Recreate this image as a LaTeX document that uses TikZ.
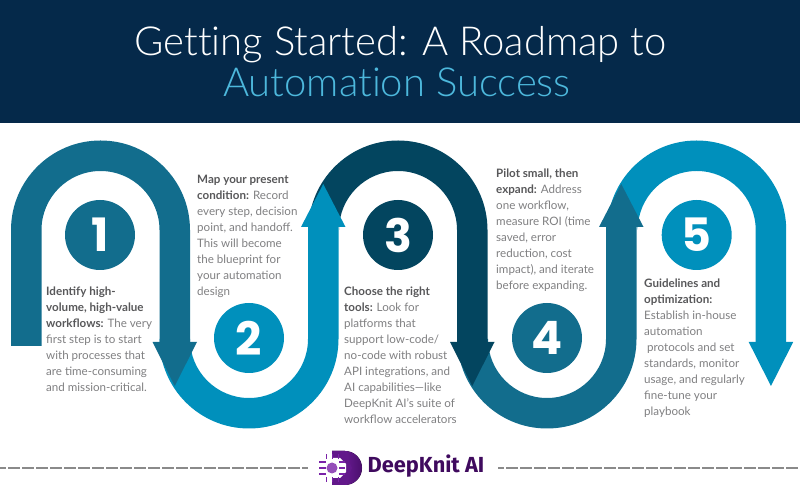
\documentclass[tikz,border=0pt]{standalone}
\usepackage{fontspec}
\setmainfont{Lato}
\newfontfamily\titlefont[Ligatures=NoCommon]{Lato Light}
\newfontfamily\numfont{Poppins}
\newfontfamily\logofont{Fira Sans}
\usetikzlibrary{positioning}
\definecolor{navy}{HTML}{05294A}
\definecolor{sky}{HTML}{4DB8DC}
\definecolor{tealband}{HTML}{126D8D}
\definecolor{blueband}{HTML}{0090BC}
\definecolor{darkband}{HTML}{03455F}
\definecolor{greytext}{HTML}{7F7F81}
\definecolor{greybold}{HTML}{58585A}
\definecolor{rulegrey}{HTML}{8A8A8A}
\definecolor{logopurple}{HTML}{3F0A5E}
\definecolor{logolight}{HTML}{7A22A8}

% one bend of the road: centre, colour, foot of the left leg
\newcommand{\hilltop}[3]{
  \fill[#2] (#1-89.5,#3) -- (#1-89.5,270) arc[start angle=180,end angle=0,radius=89.5]
    -- (#1+89.5,158) -- (#1+59,158) -- (#1+59,270) arc[start angle=0,end angle=180,radius=59]
    -- (#1-59,#3) -- cycle;
  \fill[#2] (#1+52,158) -- (#1+96.5,158) -- (#1+74.25,114) -- cycle;
}
\newcommand{\valley}[2]{
  \fill[#2] (#1-89.5,161) arc[start angle=180,end angle=360,radius=89.5]
    -- (#1+89.5,273) -- (#1+59,273) -- (#1+59,161) arc[start angle=360,end angle=180,radius=59] -- cycle;
  \fill[#2] (#1+52,273) -- (#1+96.5,273) -- (#1+74.25,316) -- cycle;
}
\newcommand{\hd}[1]{\textcolor{greybold}{\bfseries #1}}

\begin{document}
\begin{tikzpicture}[x=1pt,y=1pt]
  \tikzset{
    stepnum/.style={circle, minimum size=70pt, inner sep=0pt, text=white,
      font=\numfont\bfseries\fontsize{46}{46}\selectfont},
    blurb/.style={anchor=north west, align=left, inner sep=0pt, text=greytext,
      font=\fontsize{11.6}{16}\selectfont},
    titleline/.style={anchor=base, font=\titlefont\fontsize{40}{40}\selectfont, inner sep=0pt},
    rule/.style={rulegrey, line width=2pt, dash pattern=on 12pt off 2pt, dash phase=6pt}
  }
  \useasboundingbox (0,0) rectangle (800,500);
  \fill[navy] (0,377) rectangle (800,500);

  \node[titleline, text=white] (title) at (400.5,444) {Getting Started: A Roadmap to};
  \node[titleline, text=sky] (subtitle) at (397,403) {Automation Success};

  % back to front, every head lies on the next band
  \hilltop{696.7}{blueband}{273}
  \valley{547}{tealband}
  \hilltop{398}{darkband}{273}
  \valley{249}{blueband}
  \hilltop{100.5}{tealband}{154}

  \node[stepnum, fill=tealband] (one) at (100,265) {1};
  \node[stepnum, fill=blueband] (two) at (249,162) {2};
  \node[stepnum, fill=darkband] (three) at (398,265) {3};
  \node[stepnum, fill=tealband] (four) at (547,162) {4};
  \node[stepnum, fill=blueband] (five) at (696.7,265) {5};

  \node[blurb] (identify) at (46,213) {\hd{Identify high-}\\\hd{volume, high-value}\\\hd{workflows:} The very\\first step is to start\\with processes that\\are time-consuming\\and mission-critical.};
  \node[blurb] (map) at (197,325) {\hd{Map your present}\\\hd{condition:} Record\\every step, decision\\point, and handoff.\\This will become\\the blueprint for\\your automation\\design};
  \node[blurb] (choose) at (344,213) {\hd{Choose the right}\\\hd{tools:} Look for\\platforms that\\support low-code/\\no-code with robust\\API integrations, and\\AI capabilities---like\\DeepKnit AI's suite of\\workflow accelerators};
  \node[blurb] (pilot) at (496,331) {\hd{Pilot small, then}\\\hd{expand:} Address\\one workflow,\\measure ROI (time\\saved, error\\reduction, cost\\impact), and iterate\\before expanding.};
  \node[blurb] (guide) at (644,221) {\hd{Guidelines and}\\\hd{optimization:}\\Establish in-house\\automation\\\ protocols and set\\standards, monitor\\usage, and regularly\\fine-tune your\\playbook};

  % logo
  \node[anchor=base, inner sep=0pt, text=logopurple, font=\logofont\bfseries\fontsize{21.8}{22}\selectfont] (brand) at (426,27) {DeepKnit AI};
  \fill[left color=logolight, right color=logopurple!80!logolight] (332,49) -- (345,49)
    arc[start angle=90,end angle=-90,radius=17] -- (332,15) -- cycle;
  \fill[logolight!60!logopurple] (345,49) -- (332,49) -- (332,15) -- (345,15) -- (352,32) -- cycle;
  \fill[white] (332,42) -- (340,42) -- (346,36) -- (346,28) -- (340,22) -- (332,22) -- cycle;
  \fill[logolight!80!white] (332,32) circle (5.5pt);
  \foreach \ypos in {26,32,38} {
    \draw[logolight, line width=1.2pt] (319,\ypos) -- (326,\ypos);
    \draw[logolight, line width=1.2pt] (339,\ypos) -- (345,\ypos);
  }
  \foreach \xpos in {326,332,338} {
    \draw[logolight, line width=1pt] (\xpos,41) -- (\xpos,46);
    \draw[logolight, line width=1pt] (\xpos,18) -- (\xpos,23);
  }

  \coordinate (ruleleft) at (0,31.7);
  \coordinate (logoleft) at (308,31.7);
  \coordinate (logoright) at (498,31.7);
  \coordinate (ruleright) at (800,31.7);
  \draw[rule] (ruleleft) -- (logoleft);
  \draw[rule] (logoright) -- (ruleright);
\end{tikzpicture}
\end{document}
